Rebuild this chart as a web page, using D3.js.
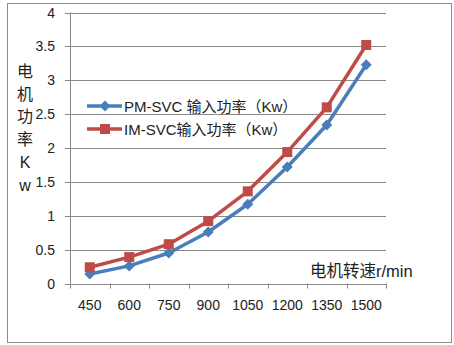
<!DOCTYPE html>
<html><head><meta charset="utf-8">
<script src="https://cdn.jsdelivr.net/npm/d3@7"></script>
<style>body{margin:0;background:#fff;}svg{display:block;} text{text-spacing-trim: space-all;}</style>
</head><body>
<script>
const categories = ["450","600","750","900","1050","1200","1350","1500"];
const pmValues = [0.14, 0.26, 0.45, 0.76, 1.17, 1.72, 2.34, 3.23];
const imValues = [0.24, 0.39, 0.58, 0.92, 1.36, 1.94, 2.60, 3.52];
const yTicks = [0, 0.5, 1, 1.5, 2, 2.5, 3, 3.5, 4];
const seriesNames = ["PM-SVC 输入功率（Kw）", "IM-SVC输入功率（Kw）"];
const yTitle = ["电","机","功","率","K","w"];
const xTitle = "电机转速r/min";

const W = 454, H = 345;
const font = "'Liberation Sans', 'Noto Sans CJK SC', sans-serif";
const svg = d3.select("body").append("svg").attr("width", W).attr("height", H);
svg.append("rect").attr("x", 7.5).attr("y", 3.5).attr("width", 444).attr("height", 339)
  .attr("fill", "#fff").attr("stroke", "#8c8c8c").attr("stroke-width", 1);

const x = d3.scaleBand().domain(categories).range([70, 386]);
const y = d3.scaleLinear().domain([0, 4]).range([283.5, 12.5]);

// gridlines
svg.append("g").selectAll("line").data(yTicks).join("line")
  .attr("x1", 65).attr("x2", 386)
  .attr("y1", d => Math.round(y(d)) + 0.5).attr("y2", d => Math.round(y(d)) + 0.5)
  .attr("stroke", "#888").attr("stroke-width", 1);

// y axis line
svg.append("line").attr("x1", 70.5).attr("x2", 70.5).attr("y1", y(4)).attr("y2", y(0))
  .attr("stroke", "#888");
// x tick marks
const bounds = categories.map(c => x(c)).concat([x.range()[1]]);
svg.append("g").selectAll("line").data(bounds).join("line")
  .attr("x1", d => Math.round(d) + 0.5).attr("x2", d => Math.round(d) + 0.5)
  .attr("y1", y(0)).attr("y2", y(0) + 5).attr("stroke", "#888");

// y tick labels
svg.append("g").selectAll("text").data(yTicks).join("text")
  .attr("x", 55).attr("y", d => y(d) + 5)
  .attr("text-anchor", "end").attr("font-family", font).attr("font-size", 14)
  .attr("fill", "#222").text(d => d);

// x tick labels
svg.append("g").selectAll("text").data(categories).join("text")
  .attr("x", d => x(d) + x.bandwidth() / 2).attr("y", 310)
  .attr("text-anchor", "middle").attr("font-family", font).attr("font-size", 14)
  .attr("fill", "#222").text(d => d);

// y title
svg.append("g").selectAll("text").data(yTitle).join("text")
  .attr("x", 25).attr("y", (d, i) => 77 + i * 22.7)
  .attr("text-anchor", "middle").attr("font-family", font).attr("font-size", 16)
  .attr("fill", "#222").text(d => d);

// x title
svg.append("text").attr("x", 310).attr("y", 277).attr("font-family", font)
  .attr("font-size", 16.5).attr("fill", "#222").text(xTitle);

const colors = ["#4A7EBB", "#BE4B48"];
const line = d3.line().x((d, i) => x(categories[i]) + x.bandwidth() / 2).y(d => y(d));

function marker(g, kind, cx, cy, color) {
  if (kind === 0) {
    g.append("path").attr("d", `M${cx},${cy-5.5}L${cx+5.5},${cy}L${cx},${cy+5.5}L${cx-5.5},${cy}Z`).attr("fill", color);
  } else {
    g.append("rect").attr("x", cx - 5).attr("y", cy - 5).attr("width", 10).attr("height", 10).attr("fill", color);
  }
}

[pmValues, imValues].forEach((vals, k) => {
  const g = svg.append("g");
  g.append("path").attr("d", line(vals)).attr("fill", "none")
    .attr("stroke", colors[k]).attr("stroke-width", 3.5).attr("stroke-linejoin", "round");
  vals.forEach((v, i) => marker(g, k, x(categories[i]) + x.bandwidth() / 2, y(v), colors[k]));
});

// legend
seriesNames.forEach((name, k) => {
  const ly = 106 + k * 23;
  const g = svg.append("g");
  g.append("rect").attr("x", 84).attr("y", ly - 12).attr("width", 212).attr("height", 20).attr("fill", "#fff");
  g.append("line").attr("x1", 87).attr("x2", 122).attr("y1", ly).attr("y2", ly)
    .attr("stroke", colors[k]).attr("stroke-width", 3.5);
  marker(g, k, 105, ly, colors[k]);
  g.append("text").attr("x", 124).attr("y", ly + 5.5).attr("font-family", font)
    .attr("font-size", 15).attr("fill", "#222").text(name);
});
</script>
</body></html>
